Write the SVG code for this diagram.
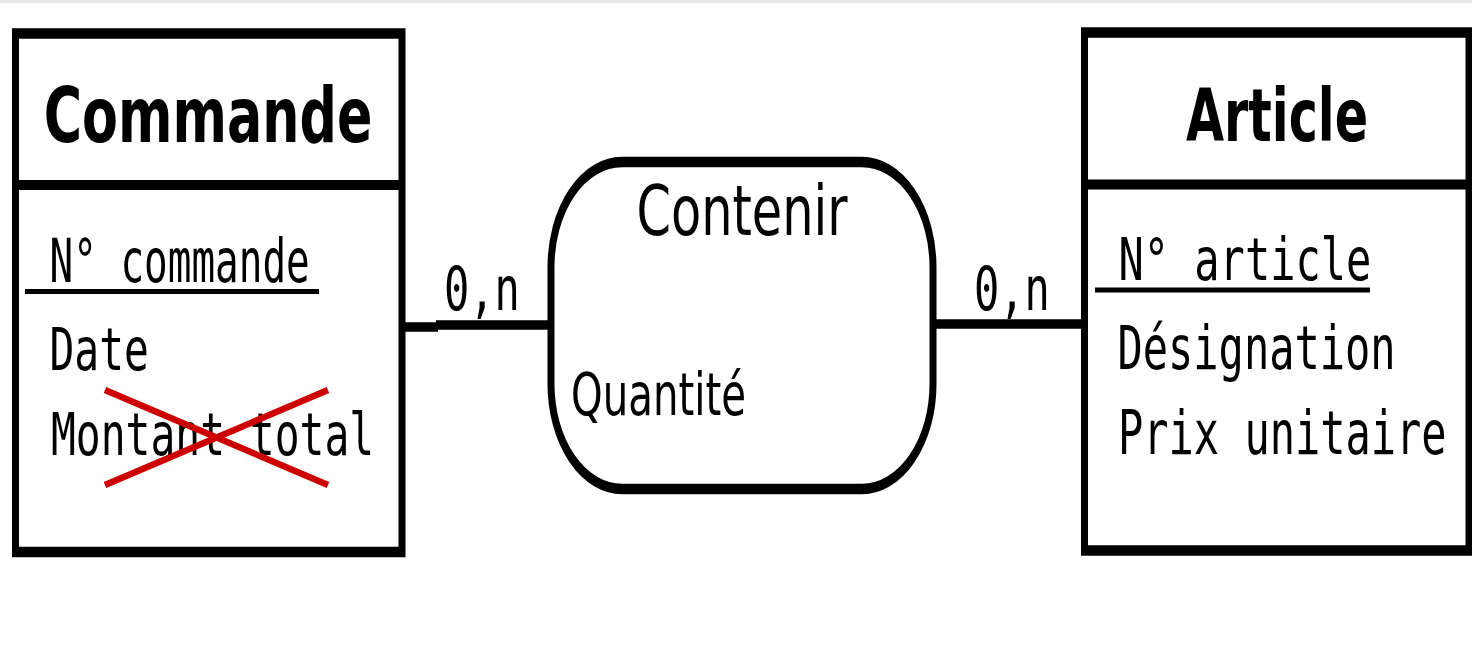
<svg xmlns="http://www.w3.org/2000/svg" width="1472" height="658" viewBox="0 0 1472 658">
<style>
.box{fill:#fff;stroke:#000;stroke-width:7}
.div{stroke:#000;stroke-width:10}
.ul{stroke:#000;stroke-width:5}
.conn{fill:none;stroke:#000;stroke-width:9.5}
.title{font-family:"DejaVu Sans",sans-serif;font-weight:bold;fill:#000}
.rel{font-family:"DejaVu Sans",sans-serif;fill:#000}
.mono{font-family:"DejaVu Sans Mono",monospace;fill:#000}
.cross{stroke:#cc0000;stroke-width:6.5}
</style>
<rect x="0" y="0" width="1472" height="658" fill="#fff"/>
<rect x="0" y="0" width="1472" height="3" fill="#e6e6e6"/>
<g id="connectors">
<line class="conn" x1="402" y1="327" x2="438" y2="327"/>
<line class="conn" x1="436" y1="325" x2="551" y2="325"/>
<line class="conn" x1="933" y1="324" x2="1084" y2="324"/>
<text class="mono" font-size="42" transform="translate(444,310) scale(1,1.42)">0,n</text>
<text class="mono" font-size="42" transform="translate(974,310) scale(1,1.42)">0,n</text>
</g>
<g id="commande">
<rect class="box" x="15.5" y="22.33" width="386.5" height="345.67" transform="scale(1,1.5)"/>
<line class="div" x1="15.5" y1="185" x2="402" y2="185"/>
<text class="title" font-size="52.3" text-anchor="middle" transform="translate(208,141.7) scale(1,1.46)">Commande</text>
<text class="mono" font-size="39.3" transform="translate(49.5,282) scale(1,1.52)">N° commande</text>
<line class="ul" x1="25" y1="291.5" x2="319" y2="291.5"/>
<text class="mono" font-size="41.3" transform="translate(49.5,370) scale(1,1.44)">Date</text>
<text class="mono" font-size="41.3" transform="translate(51,455) scale(1,1.43)">Montant total</text>
<line class="cross" x1="105" y1="390" x2="328" y2="485"/>
<line class="cross" x1="105" y1="485" x2="328" y2="390"/>
</g>
<g id="contenir">
<rect class="box" x="551" y="108" width="382" height="218" rx="71" ry="70" transform="scale(1,1.5)"/>
<text class="rel" font-size="49.4" text-anchor="middle" transform="translate(742,235) scale(1,1.42)">Contenir</text>
<text class="rel" font-size="40.3" transform="translate(571,415) scale(1,1.44)">Quantité</text>
</g>
<g id="article">
<rect class="box" x="1084.5" y="21.67" width="384.5" height="345.33" transform="scale(1,1.5)"/>
<line class="div" x1="1084.5" y1="184.5" x2="1469" y2="184.5"/>
<text class="title" font-size="49.2" text-anchor="middle" transform="translate(1277,141) scale(1,1.47)">Article</text>
<text class="mono" font-size="42" transform="translate(1118.5,280) scale(1,1.4)">N° article</text>
<line class="ul" x1="1095" y1="290" x2="1370" y2="290"/>
<text class="mono" font-size="42" transform="translate(1117.5,369) scale(1,1.42)">Désignation</text>
<text class="mono" font-size="42" transform="translate(1118,454) scale(1,1.42)">Prix unitaire</text>
</g>
</svg>
